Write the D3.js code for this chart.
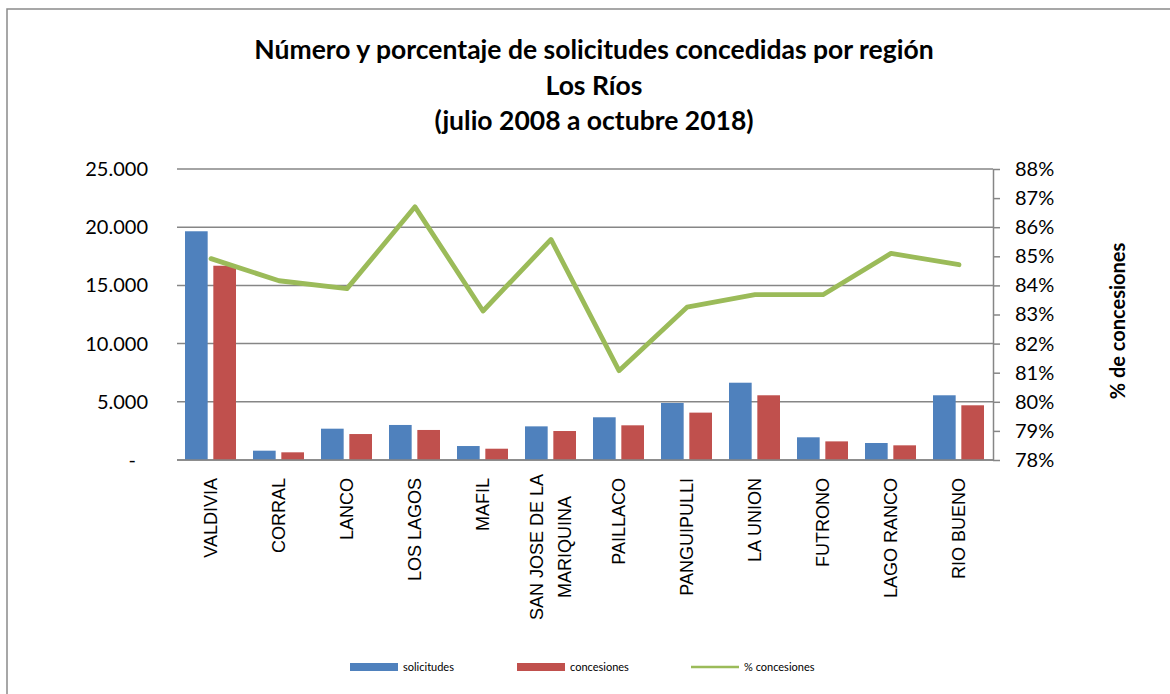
<!DOCTYPE html>
<html>
<head>
<meta charset="utf-8">
<script src="https://cdn.jsdelivr.net/npm/d3@7"></script>
<style>
  body { margin: 0; background: #fff; }
  text { fill: #000; }
</style>
</head>
<body>
<div id="chart"></div>
<script>
// Data
var comunas = ["VALDIVIA", "CORRAL", "LANCO", "LOS LAGOS", "MAFIL", "SAN JOSE DE LA MARIQUINA",
  "PAILLACO", "PANGUIPULLI", "LA UNION", "FUTRONO", "LAGO RANCO", "RIO BUENO"];
var solicitudes = [19650, 800, 2690, 3010, 1200, 2890, 3670, 4900, 6640, 1950, 1460, 5560];
var concesiones = [16690, 660, 2230, 2580, 970, 2490, 2980, 4070, 5560, 1600, 1260, 4700];
var pctConcesiones = [0.8492, 0.8416, 0.8389, 0.8670, 0.8312, 0.8558, 0.8107, 0.8325, 0.8368, 0.8368, 0.8510, 0.8471];
var leftTicks = [0, 5000, 10000, 15000, 20000, 25000];
var rightTicks = d3.range(78, 89).map(d => d / 100);
var titleLines = ["Número y porcentaje de solicitudes concedidas por región", "Los Ríos", "(julio 2008 a octubre 2018)"];

var svgWidth = 1170;
var svgHeight = 694;
var plot = {left: 177, right: 993, top: 169, bottom: 460};
var gridColor = "#868686";
var calibri = "Lato, 'Open Sans', sans-serif";

var svg = d3.select("#chart")
  .append("svg")
  .attr("width", svgWidth)
  .attr("height", svgHeight);

// outer border (runs off the right and bottom edges)
svg.append("rect")
  .attr("x", 7)
  .attr("y", 9)
  .attr("width", 1300)
  .attr("height", 800)
  .attr("fill", "none")
  .attr("stroke", "#8a8a8a")
  .attr("stroke-width", 1.5);

// Title
svg.append("g").selectAll("text")
  .data(titleLines)
  .enter()
  .append("text")
  .attr("x", 594)
  .attr("y", (d, i) => 59 + i * 35.5)
  .attr("text-anchor", "middle")
  .style("font-family", calibri)
  .style("font-weight", "bold")
  .style("font-size", "26.5px")
  .text(d => d);

// Scales
var x = d3.scaleBand().domain(comunas).range([plot.left, plot.right]);
var x1 = d3.scaleBand().domain(["sol", "con"]).range([8, 59]).paddingInner(0.2);
var yLeft = d3.scaleLinear().domain([0, 25000]).range([plot.bottom, plot.top]);
var yRight = d3.scaleLinear().domain([0.78, 0.88]).range([plot.bottom, plot.top]);

// Gridlines
svg.append("g").selectAll("line")
  .data(leftTicks)
  .enter()
  .append("line")
  .attr("x1", plot.left)
  .attr("x2", plot.right)
  .attr("y1", d => yLeft(d))
  .attr("y2", d => yLeft(d))
  .attr("stroke", gridColor)
  .attr("stroke-width", 1.5);

// Left axis labels
var leftAxis = d3.axisLeft(yLeft)
  .tickValues(leftTicks)
  .tickSize(0)
  .tickPadding(29)
  .tickFormat(d => d === 0 ? "-" : d3.format(",")(d).replace(/,/g, "."));

var gLeft = svg.append("g")
  .attr("transform", `translate(${plot.left}, 0)`)
  .call(leftAxis);
gLeft.select(".domain").remove();
gLeft.selectAll("text")
  .style("font-family", calibri)
  .style("font-size", "20px")
  .attr("fill", "#000")
  .attr("dx", d => d === 0 ? -12 : 0);

// Bars
var groups = svg.append("g").selectAll("g")
  .data(comunas)
  .enter()
  .append("g")
  .attr("transform", d => `translate(${x(d)}, 0)`);

groups.append("rect")
  .attr("x", x1("sol"))
  .attr("width", x1.bandwidth())
  .attr("y", (d, i) => yLeft(solicitudes[i]))
  .attr("height", (d, i) => plot.bottom - yLeft(solicitudes[i]))
  .attr("fill", "#4F81BD");

groups.append("rect")
  .attr("x", x1("con"))
  .attr("width", x1.bandwidth())
  .attr("y", (d, i) => yLeft(concesiones[i]))
  .attr("height", (d, i) => plot.bottom - yLeft(concesiones[i]))
  .attr("fill", "#C0504D");

// Bottom axis line
svg.append("line")
  .attr("x1", plot.left)
  .attr("x2", plot.right)
  .attr("y1", plot.bottom)
  .attr("y2", plot.bottom)
  .attr("stroke", gridColor)
  .attr("stroke-width", 1.5);

// Right axis
var rightAxis = d3.axisRight(yRight)
  .tickValues(rightTicks)
  .tickSize(7)
  .tickSizeOuter(0)
  .tickPadding(15)
  .tickFormat(d3.format(".0%"));

var gRight = svg.append("g")
  .attr("transform", `translate(${plot.right}, 0)`)
  .call(rightAxis);
gRight.selectAll("path, line")
  .attr("stroke", gridColor)
  .attr("stroke-width", 1.5);
gRight.selectAll("text")
  .style("font-family", calibri)
  .style("font-size", "20px")
  .attr("fill", "#000");

// Percent line
var line = d3.line()
  .x((d, i) => x(comunas[i]) + x.bandwidth() / 2)
  .y(d => yRight(d));

svg.append("path")
  .datum(pctConcesiones)
  .attr("d", line)
  .attr("fill", "none")
  .attr("stroke", "#9BBB59")
  .attr("stroke-width", 4.8)
  .attr("stroke-linejoin", "round")
  .attr("stroke-linecap", "round");

// Category labels (rotated)
var labels = svg.append("g").selectAll("text")
  .data(comunas)
  .enter()
  .append("text")
  .attr("transform", d => `translate(${x(d) + x.bandwidth() / 2 + 6}, 478) rotate(-90)`)
  .attr("text-anchor", "end")
  .style("font-family", "'Liberation Sans', Arial, sans-serif")
  .style("font-size", "18px");

labels.each(function(d) {
  var t = d3.select(this);
  if (d === "SAN JOSE DE LA MARIQUINA") {
    t.attr("text-anchor", "middle")
      .attr("transform", `translate(${x(d) + x.bandwidth() / 2 + 6}, 547) rotate(-90)`);
    t.append("tspan").attr("x", 0).attr("dy", -14).text("SAN JOSE DE LA");
    t.append("tspan").attr("x", 0).attr("dy", 28).text("MARIQUINA");
  } else {
    t.text(d);
  }
});

// Right axis title
svg.append("text")
  .attr("transform", "translate(1125, 321) rotate(-90)")
  .attr("text-anchor", "middle")
  .style("font-family", calibri)
  .style("font-weight", "bold")
  .style("font-size", "20px")
  .text("% de concesiones");

// Legend
var legendItems = [
  {name: "solicitudes", color: "#4F81BD", type: "rect", x: 350},
  {name: "concesiones", color: "#C0504D", type: "rect", x: 517},
  {name: "% concesiones", color: "#9BBB59", type: "line", x: 691}
];

var legend = svg.append("g").selectAll("g")
  .data(legendItems)
  .enter()
  .append("g")
  .attr("transform", d => `translate(${d.x}, 667)`);

legend.filter(d => d.type === "rect")
  .append("rect")
  .attr("x", 0)
  .attr("y", -4)
  .attr("width", 48)
  .attr("height", 8)
  .attr("fill", d => d.color);

legend.filter(d => d.type === "line")
  .append("line")
  .attr("x1", 0)
  .attr("x2", 48)
  .attr("y1", 0)
  .attr("y2", 0)
  .attr("stroke", d => d.color)
  .attr("stroke-width", 2.5);

legend.append("text")
  .attr("x", 53)
  .attr("y", 4)
  .style("font-family", calibri)
  .style("font-size", "11px")
  .text(d => d.name);
</script>
</body>
</html>
